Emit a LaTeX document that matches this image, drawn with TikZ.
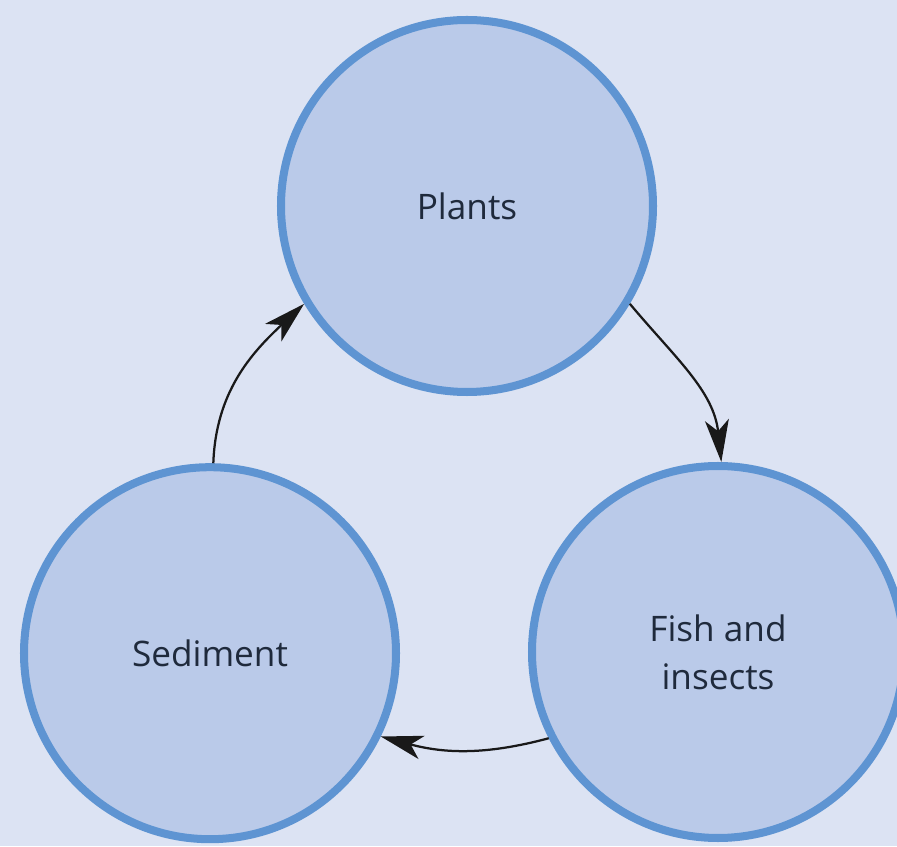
\documentclass[tikz,border=0pt]{standalone}
\usepackage{fontspec}
\setmainfont{Open Sans}
\usepackage{tikz}
\usetikzlibrary{positioning,arrows.meta}

\definecolor{bgblue}{HTML}{DCE3F3}
\definecolor{cyclefill}{HTML}{BACAE9}
\definecolor{cycleedge}{HTML}{5E94D2}
\definecolor{cycletext}{HTML}{1F2A3C}

\begin{document}
\begin{tikzpicture}[
  cyclenode/.style={circle,draw=cycleedge,line width=5.7pt,fill=cyclefill,minimum size=9.3cm,inner sep=0pt,align=center,font=\fontsize{25}{34}\selectfont,text=cycletext},
  flow/.style={-{Stealth[length=30pt,width=17pt,inset=8pt]},line width=1.6pt,black!90},
]

% ==== background ====
\fill[bgblue] (0,0) rectangle (22.425,21.15);
\useasboundingbox (0,0) rectangle (22.425,21.15);

% ==== the three stages ====
\node[cyclenode] (plants) at (11.675,16.0) {Plants};
\node[cyclenode] (sediment) at (5.25,4.82) {Sediment};
\node[cyclenode] (fish) at (17.95,4.85) {Fish and\\insects};

% ==== cycle arrows ====
\draw[flow] (plants.-31) to[out=-50,in=96] (fish.89);
\draw[flow] (fish.-153) to[out=195,in=-15] (sediment.-26);
\draw[flow] (sediment.89) to[out=88,in=-137] (plants.-149);

\end{tikzpicture}
\end{document}
